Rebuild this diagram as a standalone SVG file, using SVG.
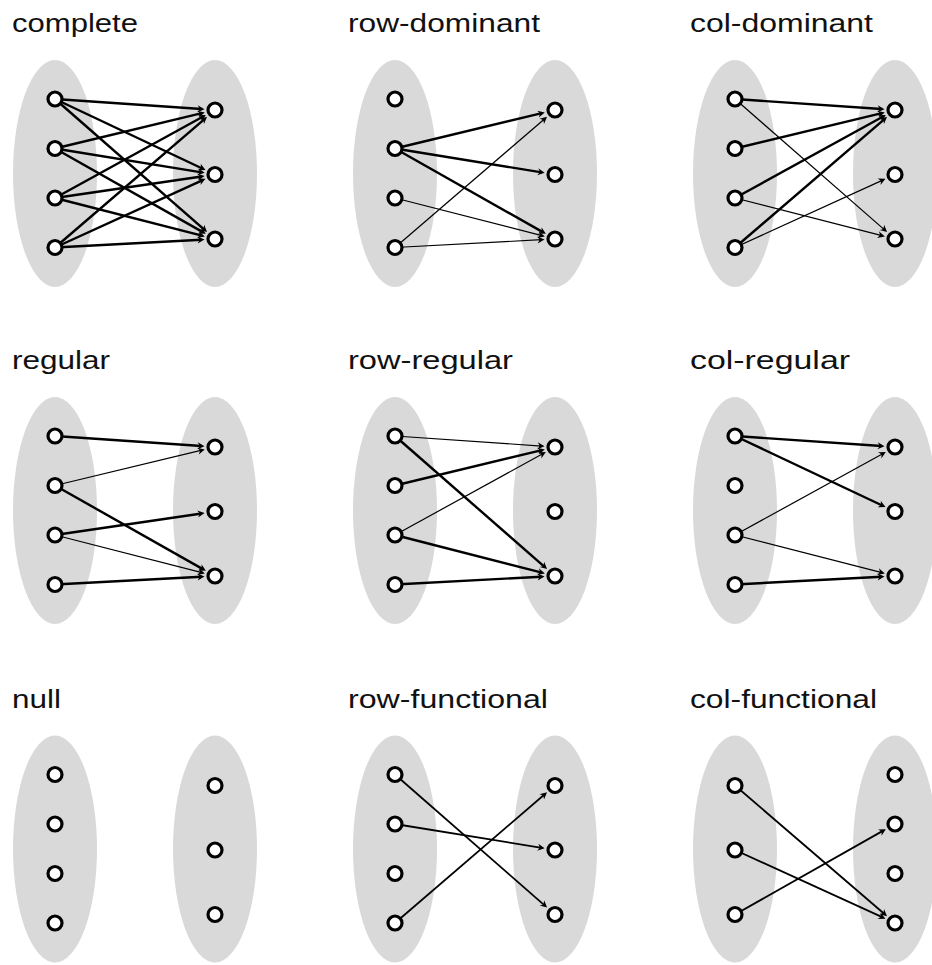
<svg xmlns="http://www.w3.org/2000/svg" width="932" height="965" viewBox="0 0 932 965">
  <style>
    .title { font-family: "Liberation Sans", Arial, Helvetica, sans-serif; font-size: 26px; fill: #111; }
    .set { fill: #d9d9d9; }
    .node circle { fill: #fff; stroke: #000; stroke-width: 3.2; }
    .edges line { stroke: #000; fill: none; marker-end: url(#tip); }
    .thick { stroke-width: 2.4; }
    .thin { stroke-width: 1.2; }
    .mid { stroke-width: 1.8; }
  </style>
  <defs>
    <marker id="tip" viewBox="-8 -5 10 10" markerWidth="10" markerHeight="10" refX="-3" refY="0" orient="auto" markerUnits="userSpaceOnUse">
      <path d="M0,0 L-7,-3.5 Q-5,-0.7 -5.2,0 Q-5,0.7 -7,3.5 Z" fill="#000"/>
    </marker>
    <ellipse id="blob-l" class="set" cx="55" cy="173.5" rx="42" ry="113.5"/>
    <ellipse id="blob-r" class="set" cx="215" cy="173.5" rx="42" ry="113.5"/>
  </defs>

  <!-- complete -->
  <g id="complete" transform="translate(0,0)">
    <text class="title" x="12" y="32" textLength="126" lengthAdjust="spacingAndGlyphs">complete</text>
    <use href="#blob-l"/><use href="#blob-r"/>
    <g class="edges">
      <line class="thick" x1="55" y1="99" x2="201.53" y2="109.07"/>
      <line class="thick" x1="55" y1="99" x2="202.79" y2="168.74"/>
      <line class="thick" x1="55" y1="99" x2="204.84" y2="230.11"/>
      <line class="thick" x1="55" y1="148.5" x2="201.88" y2="113.16"/>
      <line class="thick" x1="55" y1="148.5" x2="201.67" y2="172.34"/>
      <line class="thick" x1="55" y1="148.5" x2="203.25" y2="232.36"/>
      <line class="thick" x1="55" y1="198" x2="203.17" y2="116.50"/>
      <line class="thick" x1="55" y1="198" x2="201.64" y2="176.46"/>
      <line class="thick" x1="55" y1="198" x2="201.92" y2="235.65"/>
      <line class="thick" x1="55" y1="247.5" x2="204.76" y2="118.79"/>
      <line class="thick" x1="55" y1="247.5" x2="202.72" y2="180.10"/>
      <line class="thick" x1="55" y1="247.5" x2="201.52" y2="239.72"/>
    </g>
    <g id="complete-l1" class="node"><circle cx="55" cy="99" r="7"/></g>
    <g id="complete-l2" class="node"><circle cx="55" cy="148.5" r="7"/></g>
    <g id="complete-l3" class="node"><circle cx="55" cy="198" r="7"/></g>
    <g id="complete-l4" class="node"><circle cx="55" cy="247.5" r="7"/></g>
    <g id="complete-r1" class="node"><circle cx="215" cy="110" r="7"/></g>
    <g id="complete-r2" class="node"><circle cx="215" cy="174.5" r="7"/></g>
    <g id="complete-r3" class="node"><circle cx="215" cy="239" r="7"/></g>
  </g>

  <!-- row-dominant -->
  <g id="row-dominant" transform="translate(340,0)">
    <text class="title" x="8" y="32" textLength="192" lengthAdjust="spacingAndGlyphs">row-dominant</text>
    <use href="#blob-l"/><use href="#blob-r"/>
    <g class="edges">
      <line class="thick" x1="55" y1="148.5" x2="201.88" y2="113.16"/>
      <line class="thick" x1="55" y1="148.5" x2="201.67" y2="172.34"/>
      <line class="thick" x1="55" y1="148.5" x2="203.25" y2="232.36"/>
      <line class="thin" x1="55" y1="198" x2="201.92" y2="235.65"/>
      <line class="thin" x1="55" y1="247.5" x2="204.76" y2="118.79"/>
      <line class="thin" x1="55" y1="247.5" x2="201.52" y2="239.72"/>
    </g>
    <g id="row-dominant-l1" class="node"><circle cx="55" cy="99" r="7"/></g>
    <g id="row-dominant-l2" class="node"><circle cx="55" cy="148.5" r="7"/></g>
    <g id="row-dominant-l3" class="node"><circle cx="55" cy="198" r="7"/></g>
    <g id="row-dominant-l4" class="node"><circle cx="55" cy="247.5" r="7"/></g>
    <g id="row-dominant-r1" class="node"><circle cx="215" cy="110" r="7"/></g>
    <g id="row-dominant-r2" class="node"><circle cx="215" cy="174.5" r="7"/></g>
    <g id="row-dominant-r3" class="node"><circle cx="215" cy="239" r="7"/></g>
  </g>

  <!-- col-dominant -->
  <g id="col-dominant" transform="translate(680,0)">
    <text class="title" x="10" y="32" textLength="183" lengthAdjust="spacingAndGlyphs">col-dominant</text>
    <use href="#blob-l"/><use href="#blob-r"/>
    <g class="edges">
      <line class="thick" x1="55" y1="99" x2="201.53" y2="109.07"/>
      <line class="thin" x1="55" y1="99" x2="204.84" y2="230.11"/>
      <line class="thick" x1="55" y1="148.5" x2="201.88" y2="113.16"/>
      <line class="thick" x1="55" y1="198" x2="203.17" y2="116.50"/>
      <line class="thin" x1="55" y1="198" x2="201.92" y2="235.65"/>
      <line class="thick" x1="55" y1="247.5" x2="204.76" y2="118.79"/>
      <line class="thin" x1="55" y1="247.5" x2="202.72" y2="180.10"/>
    </g>
    <g id="col-dominant-l1" class="node"><circle cx="55" cy="99" r="7"/></g>
    <g id="col-dominant-l2" class="node"><circle cx="55" cy="148.5" r="7"/></g>
    <g id="col-dominant-l3" class="node"><circle cx="55" cy="198" r="7"/></g>
    <g id="col-dominant-l4" class="node"><circle cx="55" cy="247.5" r="7"/></g>
    <g id="col-dominant-r1" class="node"><circle cx="215" cy="110" r="7"/></g>
    <g id="col-dominant-r2" class="node"><circle cx="215" cy="174.5" r="7"/></g>
    <g id="col-dominant-r3" class="node"><circle cx="215" cy="239" r="7"/></g>
  </g>

  <!-- regular -->
  <g id="regular" transform="translate(0,337)">
    <text class="title" x="12" y="32" textLength="98" lengthAdjust="spacingAndGlyphs">regular</text>
    <use href="#blob-l"/><use href="#blob-r"/>
    <g class="edges">
      <line class="thick" x1="55" y1="99" x2="201.53" y2="109.07"/>
      <line class="thin" x1="55" y1="148.5" x2="201.88" y2="113.16"/>
      <line class="thick" x1="55" y1="148.5" x2="203.25" y2="232.36"/>
      <line class="thick" x1="55" y1="198" x2="201.64" y2="176.46"/>
      <line class="thin" x1="55" y1="198" x2="201.92" y2="235.65"/>
      <line class="thick" x1="55" y1="247.5" x2="201.52" y2="239.72"/>
    </g>
    <g id="regular-l1" class="node"><circle cx="55" cy="99" r="7"/></g>
    <g id="regular-l2" class="node"><circle cx="55" cy="148.5" r="7"/></g>
    <g id="regular-l3" class="node"><circle cx="55" cy="198" r="7"/></g>
    <g id="regular-l4" class="node"><circle cx="55" cy="247.5" r="7"/></g>
    <g id="regular-r1" class="node"><circle cx="215" cy="110" r="7"/></g>
    <g id="regular-r2" class="node"><circle cx="215" cy="174.5" r="7"/></g>
    <g id="regular-r3" class="node"><circle cx="215" cy="239" r="7"/></g>
  </g>

  <!-- row-regular -->
  <g id="row-regular" transform="translate(340,337)">
    <text class="title" x="8" y="32" textLength="165" lengthAdjust="spacingAndGlyphs">row-regular</text>
    <use href="#blob-l"/><use href="#blob-r"/>
    <g class="edges">
      <line class="thin" x1="55" y1="99" x2="201.53" y2="109.07"/>
      <line class="thick" x1="55" y1="99" x2="204.84" y2="230.11"/>
      <line class="thick" x1="55" y1="148.5" x2="201.88" y2="113.16"/>
      <line class="thin" x1="55" y1="198" x2="203.17" y2="116.50"/>
      <line class="thick" x1="55" y1="198" x2="201.92" y2="235.65"/>
      <line class="thick" x1="55" y1="247.5" x2="201.52" y2="239.72"/>
    </g>
    <g id="row-regular-l1" class="node"><circle cx="55" cy="99" r="7"/></g>
    <g id="row-regular-l2" class="node"><circle cx="55" cy="148.5" r="7"/></g>
    <g id="row-regular-l3" class="node"><circle cx="55" cy="198" r="7"/></g>
    <g id="row-regular-l4" class="node"><circle cx="55" cy="247.5" r="7"/></g>
    <g id="row-regular-r1" class="node"><circle cx="215" cy="110" r="7"/></g>
    <g id="row-regular-r2" class="node"><circle cx="215" cy="174.5" r="7"/></g>
    <g id="row-regular-r3" class="node"><circle cx="215" cy="239" r="7"/></g>
  </g>

  <!-- col-regular -->
  <g id="col-regular" transform="translate(680,337)">
    <text class="title" x="10" y="32" textLength="160" lengthAdjust="spacingAndGlyphs">col-regular</text>
    <use href="#blob-l"/><use href="#blob-r"/>
    <g class="edges">
      <line class="thick" x1="55" y1="99" x2="201.53" y2="109.07"/>
      <line class="thick" x1="55" y1="99" x2="202.79" y2="168.74"/>
      <line class="thin" x1="55" y1="198" x2="203.17" y2="116.50"/>
      <line class="thin" x1="55" y1="198" x2="201.92" y2="235.65"/>
      <line class="thick" x1="55" y1="247.5" x2="201.52" y2="239.72"/>
    </g>
    <g id="col-regular-l1" class="node"><circle cx="55" cy="99" r="7"/></g>
    <g id="col-regular-l2" class="node"><circle cx="55" cy="148.5" r="7"/></g>
    <g id="col-regular-l3" class="node"><circle cx="55" cy="198" r="7"/></g>
    <g id="col-regular-l4" class="node"><circle cx="55" cy="247.5" r="7"/></g>
    <g id="col-regular-r1" class="node"><circle cx="215" cy="110" r="7"/></g>
    <g id="col-regular-r2" class="node"><circle cx="215" cy="174.5" r="7"/></g>
    <g id="col-regular-r3" class="node"><circle cx="215" cy="239" r="7"/></g>
  </g>

  <!-- null -->
  <g id="null" transform="translate(0,675.5)">
    <text class="title" x="12" y="32" textLength="49" lengthAdjust="spacingAndGlyphs">null</text>
    <use href="#blob-l"/><use href="#blob-r"/>
    <g class="edges"></g>
    <g id="null-l1" class="node"><circle cx="55" cy="99" r="7"/></g>
    <g id="null-l2" class="node"><circle cx="55" cy="148.5" r="7"/></g>
    <g id="null-l3" class="node"><circle cx="55" cy="198" r="7"/></g>
    <g id="null-l4" class="node"><circle cx="55" cy="247.5" r="7"/></g>
    <g id="null-r1" class="node"><circle cx="215" cy="110" r="7"/></g>
    <g id="null-r2" class="node"><circle cx="215" cy="174.5" r="7"/></g>
    <g id="null-r3" class="node"><circle cx="215" cy="239" r="7"/></g>
  </g>

  <!-- row-functional -->
  <g id="row-functional" transform="translate(340,675.5)">
    <text class="title" x="8" y="32" textLength="200" lengthAdjust="spacingAndGlyphs">row-functional</text>
    <use href="#blob-l"/><use href="#blob-r"/>
    <g class="edges">
      <line class="mid" x1="55" y1="99" x2="204.84" y2="230.11"/>
      <line class="mid" x1="55" y1="148.5" x2="201.67" y2="172.34"/>
      <line class="mid" x1="55" y1="247.5" x2="204.76" y2="118.79"/>
    </g>
    <g id="row-functional-l1" class="node"><circle cx="55" cy="99" r="7"/></g>
    <g id="row-functional-l2" class="node"><circle cx="55" cy="148.5" r="7"/></g>
    <g id="row-functional-l3" class="node"><circle cx="55" cy="198" r="7"/></g>
    <g id="row-functional-l4" class="node"><circle cx="55" cy="247.5" r="7"/></g>
    <g id="row-functional-r1" class="node"><circle cx="215" cy="110" r="7"/></g>
    <g id="row-functional-r2" class="node"><circle cx="215" cy="174.5" r="7"/></g>
    <g id="row-functional-r3" class="node"><circle cx="215" cy="239" r="7"/></g>
  </g>

  <!-- col-functional: three sources, four targets -->
  <g id="col-functional" transform="translate(680,675.5)">
    <text class="title" x="10" y="32" textLength="187" lengthAdjust="spacingAndGlyphs">col-functional</text>
    <use href="#blob-l"/><use href="#blob-r"/>
    <g class="edges">
      <line class="mid" x1="55" y1="110" x2="204.76" y2="238.71"/>
      <line class="mid" x1="55" y1="174.5" x2="202.72" y2="241.90"/>
      <line class="mid" x1="55" y1="239" x2="203.25" y2="155.14"/>
    </g>
    <g id="col-functional-l1" class="node"><circle cx="55" cy="110" r="7"/></g>
    <g id="col-functional-l2" class="node"><circle cx="55" cy="174.5" r="7"/></g>
    <g id="col-functional-l3" class="node"><circle cx="55" cy="239" r="7"/></g>
    <g id="col-functional-r1" class="node"><circle cx="215" cy="99" r="7"/></g>
    <g id="col-functional-r2" class="node"><circle cx="215" cy="148.5" r="7"/></g>
    <g id="col-functional-r3" class="node"><circle cx="215" cy="198" r="7"/></g>
    <g id="col-functional-r4" class="node"><circle cx="215" cy="247.5" r="7"/></g>
  </g>
</svg>
